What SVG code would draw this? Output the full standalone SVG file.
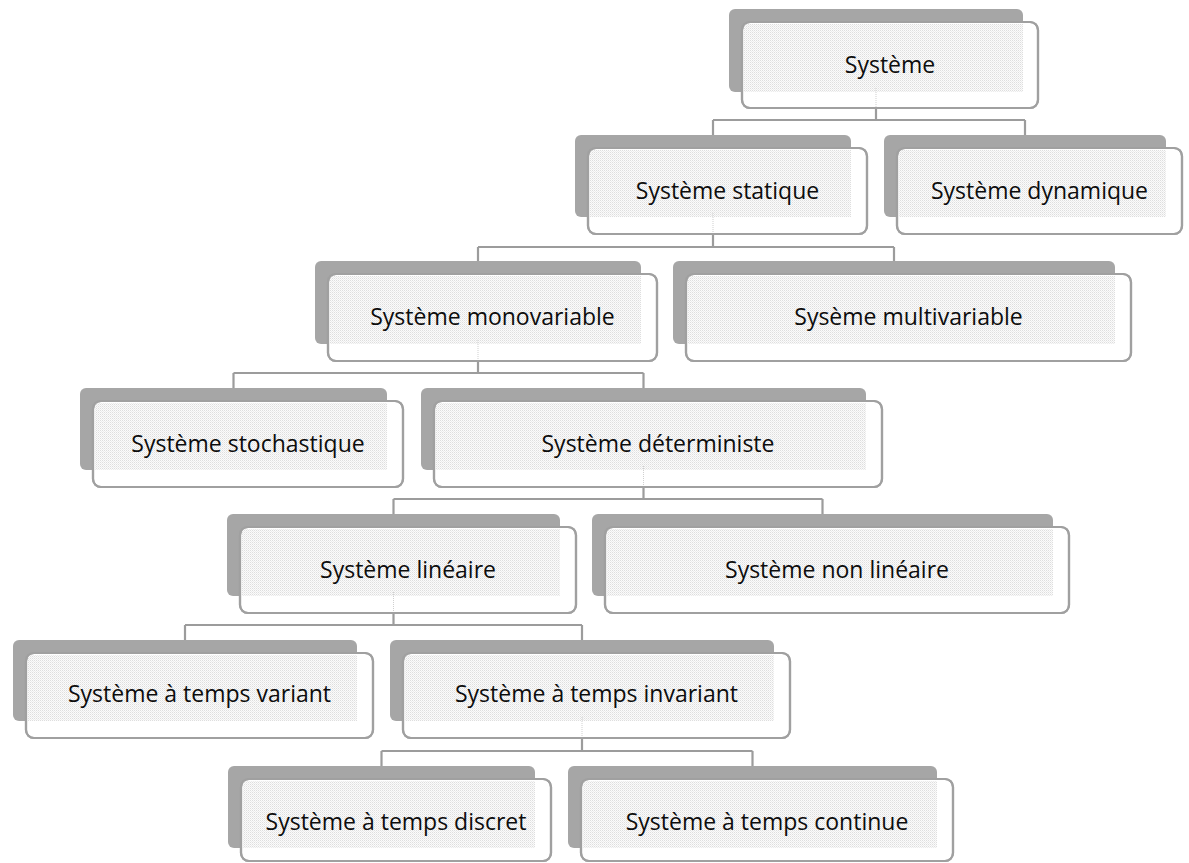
<svg xmlns="http://www.w3.org/2000/svg" width="1189" height="863" viewBox="0 0 1189 863">
  <defs>
    <!-- fine dither used where the card overlaps its shadow tab -->
    <pattern id="dither" width="2" height="2" patternUnits="userSpaceOnUse">
      <rect width="2" height="2" fill="#fbfbfb"/>
      <rect width="1" height="1" fill="#dedede"/>
      <rect x="1" y="1" width="1" height="1" fill="#ececec"/>
    </pattern>
  </defs>
  <style>
    .back { fill: #a6a6a6; }
    .front { fill: #ffffff; stroke: #a0a0a0; stroke-width: 2.2; }
    .tex { fill: url(#dither); }
    .edge { fill: none; stroke: #a0a0a0; stroke-width: 2.2; }
    .link { fill: none; stroke: #9c9c9c; stroke-width: 2.2; }
    .faint { fill: none; stroke: #cfcfcf; stroke-width: 1; stroke-dasharray: 1 1; }
    .label { font-family: "Open Sans", "Liberation Sans", sans-serif; font-size: 23px; fill: #0d0d0d; text-anchor: middle; }
  </style>
  <rect width="1189" height="863" fill="#ffffff"/>

  <!-- connectors -->
  <g id="connectors">
    <path class="link" d="M876 108V120M713 120H1025M713 120V135M1025 120V135"/>
    <path class="link" d="M713 234V247M478 247H894M478 247V261M894 247V261"/>
    <path class="link" d="M478 361V373M233.5 373H643.5M233.5 373V388M643.5 373V388"/>
    <path class="link" d="M643.5 487V499M393.5 499H822.5M393.5 499V514M822.5 499V514"/>
    <path class="link" d="M393.5 613V625M185 625H582M185 625V640M582 625V640"/>
    <path class="link" d="M582 738V751M381.5 751H752.5M381.5 751V766M752.5 751V766"/>
  </g>

  <!-- Système -->
  <g id="n-systeme">
    <rect class="back" x="729" y="9" width="294" height="83" rx="6"/>
    <rect class="front" x="742" y="22" width="296" height="86" rx="8"/>
    <rect class="tex" x="744" y="24" width="279" height="68"/>
    <rect class="edge" x="742" y="22" width="296" height="86" rx="8"/>
    <path class="faint" d="M876 88V107"/>
    <text class="label" x="890" y="73">Système</text>
  </g>

  <!-- Système statique -->
  <g id="n-statique">
    <rect class="back" x="575" y="135" width="276" height="82" rx="6"/>
    <rect class="front" x="588" y="148" width="279" height="86" rx="8"/>
    <rect class="tex" x="590" y="150" width="261" height="67"/>
    <rect class="edge" x="588" y="148" width="279" height="86" rx="8"/>
    <path class="faint" d="M713 213V233"/>
    <text class="label" x="727.5" y="199">Système statique</text>
  </g>

  <!-- Système dynamique -->
  <g id="n-dynamique">
    <rect class="back" x="884" y="135" width="282" height="82" rx="6"/>
    <rect class="front" x="897" y="148" width="285" height="86" rx="8"/>
    <rect class="tex" x="899" y="150" width="267" height="67"/>
    <rect class="edge" x="897" y="148" width="285" height="86" rx="8"/>
    <text class="label" x="1039.5" y="199">Système dynamique</text>
  </g>

  <!-- Système monovariable -->
  <g id="n-monovariable">
    <rect class="back" x="315" y="261" width="326" height="83" rx="6"/>
    <rect class="front" x="328" y="274" width="329" height="87" rx="8"/>
    <rect class="tex" x="330" y="276" width="311" height="68"/>
    <rect class="edge" x="328" y="274" width="329" height="87" rx="8"/>
    <path class="faint" d="M478 340V360"/>
    <text class="label" x="492.5" y="325">Système monovariable</text>
  </g>

  <!-- Sysème multivariable -->
  <g id="n-multivariable">
    <rect class="back" x="673" y="261" width="442" height="83" rx="6"/>
    <rect class="front" x="686" y="274" width="445" height="87" rx="8"/>
    <rect class="tex" x="688" y="276" width="427" height="68"/>
    <rect class="edge" x="686" y="274" width="445" height="87" rx="8"/>
    <text class="label" x="908.5" y="325">Sysème multivariable</text>
  </g>

  <!-- Système stochastique -->
  <g id="n-stochastique">
    <rect class="back" x="80" y="388" width="307" height="82" rx="6"/>
    <rect class="front" x="93" y="401" width="310" height="86" rx="8"/>
    <rect class="tex" x="95" y="403" width="292" height="67"/>
    <rect class="edge" x="93" y="401" width="310" height="86" rx="8"/>
    <text class="label" x="248" y="452">Système stochastique</text>
  </g>

  <!-- Système déterministe -->
  <g id="n-deterministe">
    <rect class="back" x="421" y="388" width="445" height="82" rx="6"/>
    <rect class="front" x="434" y="401" width="448" height="86" rx="8"/>
    <rect class="tex" x="436" y="403" width="430" height="67"/>
    <rect class="edge" x="434" y="401" width="448" height="86" rx="8"/>
    <path class="faint" d="M643.5 466V486"/>
    <text class="label" x="658" y="452">Système déterministe</text>
  </g>

  <!-- Système linéaire -->
  <g id="n-lineaire">
    <rect class="back" x="227" y="514" width="333" height="82" rx="6"/>
    <rect class="front" x="240" y="527" width="336" height="86" rx="8"/>
    <rect class="tex" x="242" y="529" width="318" height="67"/>
    <rect class="edge" x="240" y="527" width="336" height="86" rx="8"/>
    <path class="faint" d="M393.5 592V612"/>
    <text class="label" x="408" y="578">Système linéaire</text>
  </g>

  <!-- Système non linéaire -->
  <g id="n-nonlineaire">
    <rect class="back" x="592" y="514" width="461" height="82" rx="6"/>
    <rect class="front" x="605" y="527" width="464" height="86" rx="8"/>
    <rect class="tex" x="607" y="529" width="446" height="67"/>
    <rect class="edge" x="605" y="527" width="464" height="86" rx="8"/>
    <text class="label" x="837" y="578">Système non linéaire</text>
  </g>

  <!-- Système à temps variant -->
  <g id="n-variant">
    <rect class="back" x="13" y="640" width="344" height="81" rx="6"/>
    <rect class="front" x="26" y="653" width="347" height="85" rx="8"/>
    <rect class="tex" x="28" y="655" width="329" height="66"/>
    <rect class="edge" x="26" y="653" width="347" height="85" rx="8"/>
    <text class="label" x="199.5" y="702">Système à temps variant</text>
  </g>

  <!-- Système à temps invariant -->
  <g id="n-invariant">
    <rect class="back" x="390" y="640" width="384" height="81" rx="6"/>
    <rect class="front" x="403" y="653" width="387" height="85" rx="8"/>
    <rect class="tex" x="405" y="655" width="369" height="66"/>
    <rect class="edge" x="403" y="653" width="387" height="85" rx="8"/>
    <path class="faint" d="M582 717V737"/>
    <text class="label" x="596.5" y="702">Système à temps invariant</text>
  </g>

  <!-- Système à temps discret -->
  <g id="n-discret">
    <rect class="back" x="228" y="766" width="307" height="82" rx="6"/>
    <rect class="front" x="241" y="779" width="310" height="82" rx="8"/>
    <rect class="tex" x="243" y="781" width="292" height="67"/>
    <rect class="edge" x="241" y="779" width="310" height="82" rx="8"/>
    <text class="label" x="396" y="830">Système à temps discret</text>
  </g>

  <!-- Système à temps continue -->
  <g id="n-continue">
    <rect class="back" x="568" y="766" width="369" height="82" rx="6"/>
    <rect class="front" x="581" y="779" width="372" height="82" rx="8"/>
    <rect class="tex" x="583" y="781" width="354" height="67"/>
    <rect class="edge" x="581" y="779" width="372" height="82" rx="8"/>
    <text class="label" x="767" y="830">Système à temps continue</text>
  </g>
</svg>
